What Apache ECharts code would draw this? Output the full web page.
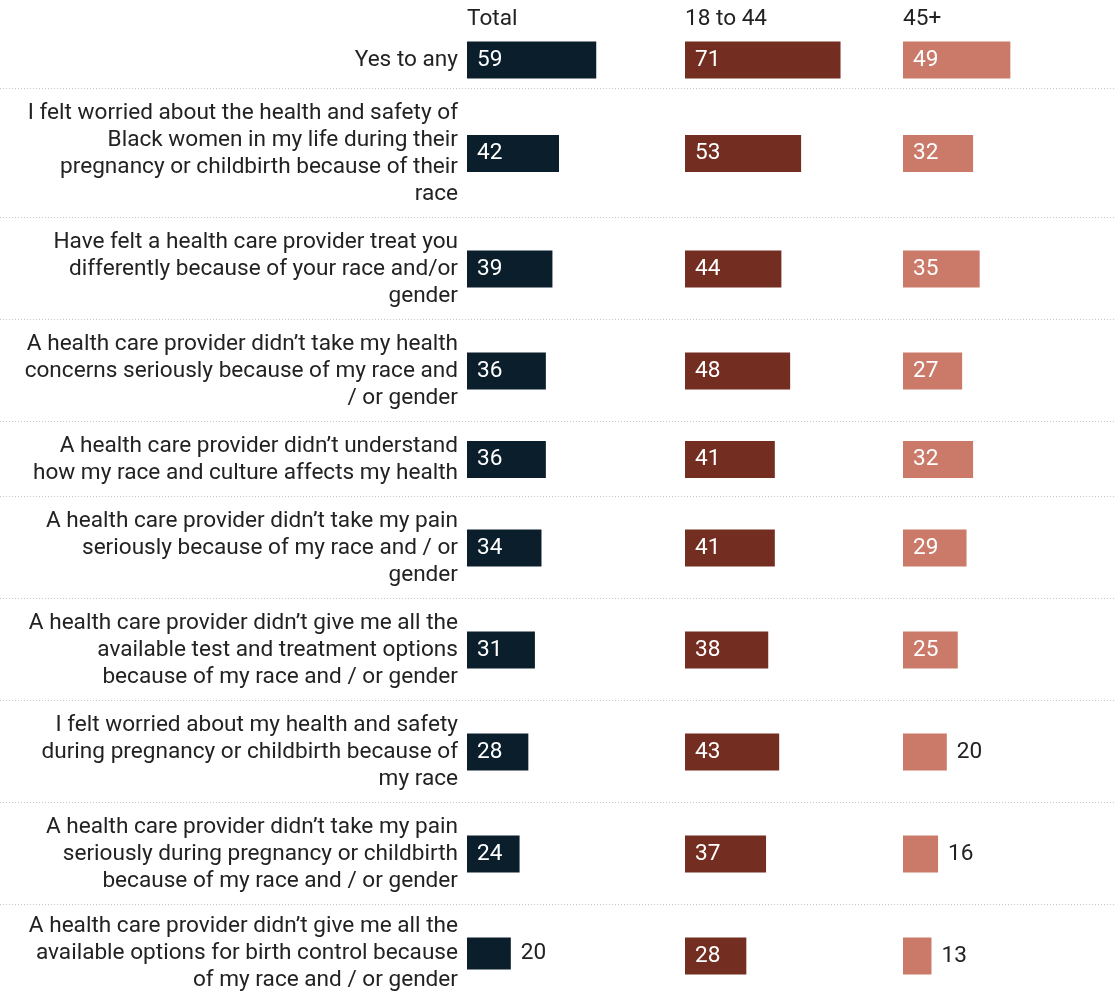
<!DOCTYPE html>
<html>
<head>
<meta charset="utf-8">
<script src="https://cdn.jsdelivr.net/npm/echarts@6/dist/echarts.min.js"></script>
<style>
  html, body { margin: 0; padding: 0; background: #fff; }
  #chart { width: 1115px; height: 996px; }
</style>
</head>
<body>
<div id="chart"></div>
<script>
// row labels, manual line breaks as in the source graphic
const categories = [
  'Yes to any',
  'I felt worried about the health and safety of\nBlack women in my life during their\npregnancy or childbirth because of their\nrace',
  'Have felt a health care provider treat you\ndifferently because of your race and/or\ngender',
  'A health care provider didn’t take my health\nconcerns seriously because of my race and\n/ or gender',
  'A health care provider didn’t understand\nhow my race and culture affects my health',
  'A health care provider didn’t take my pain\nseriously because of my race and / or\ngender',
  'A health care provider didn’t give me all the\navailable test and treatment options\nbecause of my race and / or gender',
  'I felt worried about my health and safety\nduring pregnancy or childbirth because of\nmy race',
  'A health care provider didn’t take my pain\nseriously during pregnancy or childbirth\nbecause of my race and / or gender',
  'A health care provider didn’t give me all the\navailable options for birth control because\nof my race and / or gender'
];
const columnNames = ['Total', '18 to 44', '45+'];
const totalValues = [59, 42, 39, 36, 36, 34, 31, 28, 24, 20];
const youngValues = [71, 53, 44, 48, 41, 41, 38, 43, 37, 28];
const olderValues = [49, 32, 35, 27, 32, 29, 25, 20, 16, 13];

const columnValues = [totalValues, youngValues, olderValues];
const colors = ['#0a1f2b', '#742d21', '#cb7a69'];
const colLeft = [467, 685, 903];
const colWidth = 200;
const axisMax = 91.3; // ~2.19 px per point
const lineH = 27;
const barH = 37;
const fs = 22.6;
const font = 'Roboto, "Noto Sans", sans-serif';

const chart = echarts.init(document.getElementById('chart'));

// row heights follow the number of label lines
let rowTops = [];
let rowHeights = [];
let y = 31;
categories.forEach(c => {
  let n = c.split('\n').length;
  let h = Math.max(n * lineH, barH) + 21;
  rowTops.push(y);
  rowHeights.push(h);
  y += h;
});

let grid = [], xAxis = [], yAxis = [], series = [];
categories.forEach((cat, r) => {
  let mid = rowTops[r] + rowHeights[r] / 2;
  columnValues.forEach((vals, c) => {
    let idx = grid.length;
    grid.push({ left: colLeft[c], top: mid - barH / 2, width: colWidth, height: barH });
    xAxis.push({ gridIndex: idx, type: 'value', min: 0, max: axisMax, show: false });
    yAxis.push({
      gridIndex: idx,
      type: 'category',
      data: [cat],
      axisLine: { show: false },
      axisTick: { show: false },
      axisLabel: {
        show: c === 0,
        margin: 9,
        fontSize: fs,
        lineHeight: lineH,
        padding: [4, 0, 0, 0],
        color: '#222',
        fontFamily: font
      }
    });
    let v = vals[r];
    let inside = v >= 22;
    series.push({
      type: 'bar',
      xAxisIndex: idx,
      yAxisIndex: idx,
      barWidth: barH,
      itemStyle: { color: colors[c] },
      label: {
        show: true,
        position: inside ? 'insideLeft' : 'right',
        distance: 10,
        fontSize: fs,
        padding: [4, 0, 0, 0],
        fontFamily: font,
        color: inside ? '#fff' : '#222'
      },
      silent: true,
      data: [v]
    });
  });
});

// dotted separators between rows
let graphic = [];
for (let r = 1; r < categories.length; r++) {
  graphic.push({
    type: 'line',
    shape: { x1: 0, y1: rowTops[r] - 0.5, x2: 1115, y2: rowTops[r] - 0.5 },
    style: { stroke: '#c8c8c8', lineWidth: 1, lineDash: [1, 2] },
    silent: true
  });
}

let title = columnNames.map((name, c) => ({
  text: name,
  left: colLeft[c],
  top: 8,
  padding: 0,
  textStyle: { fontSize: fs, fontWeight: 'normal', color: '#222', fontFamily: font }
}));

chart.setOption({
  animation: false,
  title: title,
  grid: grid,
  xAxis: xAxis,
  yAxis: yAxis,
  series: series,
  graphic: graphic
});
</script>
</body>
</html>
